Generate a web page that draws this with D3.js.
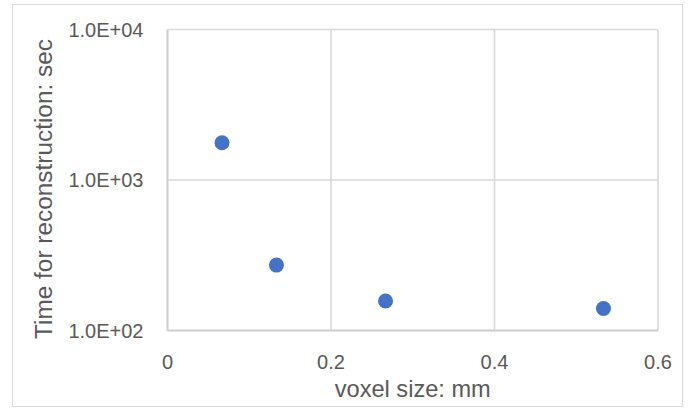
<!DOCTYPE html>
<html>
<head>
<meta charset="utf-8">
<script src="https://cdn.jsdelivr.net/npm/d3@7"></script>
<style>
  html, body { margin: 0; padding: 0; background: #ffffff; }
  svg { display: block; }
</style>
</head>
<body>
<div id="chart"></div>
<script>
// ---- data ----
const voxelSize = [0.0667, 0.1333, 0.2667, 0.5333];          // mm
const reconTime = [1770, 272, 157, 140];                      // sec
const xTicks = [0, 0.2, 0.4, 0.6];
const xTickLabels = ["0", "0.2", "0.4", "0.6"];
const yTicks = [100, 1000, 10000];
const yTickLabels = ["1.0E+02", "1.0E+03", "1.0E+04"];
const xTitle = "voxel size: mm";
const yTitle = "Time for reconstruction: sec";

// ---- layout ----
const W = 691, H = 409;
const plot = { left: 167.5, right: 658, top: 29.5, bottom: 330.5 };
const font = "'Liberation Sans', Arial, sans-serif";
const textColor = "#595959";
const gridColor = "#d9d9d9";
const pointColor = "#4472C4";

const svg = d3.select("#chart").append("svg")
  .attr("width", W).attr("height", H);

// outer chart border
svg.append("rect")
  .attr("x", 12.5).attr("y", 4.5)
  .attr("width", 670).attr("height", 402)
  .attr("fill", "#ffffff")
  .attr("stroke", gridColor).attr("stroke-width", 1);

const x = d3.scaleLinear().domain([0, 0.6]).range([plot.left, plot.right]);
const y = d3.scaleLog().domain([100, 10000]).range([plot.bottom, plot.top]);

// gridlines
const grid = svg.append("g");
grid.selectAll("line.v").data(xTicks).join("line")
  .attr("class", "v")
  .attr("x1", d => x(d)).attr("x2", d => x(d))
  .attr("y1", plot.top).attr("y2", plot.bottom)
  .attr("stroke", gridColor).attr("stroke-width", 1.6);
grid.selectAll("line.h").data(yTicks).join("line")
  .attr("class", "h")
  .attr("x1", plot.left).attr("x2", plot.right)
  .attr("y1", d => y(d)).attr("y2", d => y(d))
  .attr("stroke", gridColor).attr("stroke-width", 1.6);

// axes lines (bottom and left slightly stronger)
svg.append("line")
  .attr("x1", plot.left).attr("x2", plot.right)
  .attr("y1", plot.bottom).attr("y2", plot.bottom)
  .attr("stroke", "#d0d0d0").attr("stroke-width", 1.8);
svg.append("line")
  .attr("x1", plot.left).attr("x2", plot.left)
  .attr("y1", plot.top).attr("y2", plot.bottom)
  .attr("stroke", "#d0d0d0").attr("stroke-width", 1.8);

// x tick labels
svg.append("g").selectAll("text").data(xTicks).join("text")
  .attr("x", d => x(d)).attr("y", 369)
  .attr("text-anchor", "middle")
  .attr("font-family", font).attr("font-size", 20)
  .attr("fill", textColor)
  .text((d, i) => xTickLabels[i]);

// y tick labels
svg.append("g").selectAll("text").data(yTicks).join("text")
  .attr("x", 143.5).attr("y", d => y(d))
  .attr("dy", "0.36em")
  .attr("text-anchor", "end")
  .attr("font-family", font).attr("font-size", 20)
  .attr("fill", textColor)
  .text((d, i) => yTickLabels[i]);

// axis titles
svg.append("text")
  .attr("x", (plot.left + plot.right) / 2).attr("y", 396.5)
  .attr("text-anchor", "middle")
  .attr("font-family", font).attr("font-size", 23.6)
  .attr("fill", textColor)
  .text(xTitle);

svg.append("text")
  .attr("transform", `translate(51.5, ${189}) rotate(-90)`)
  .attr("text-anchor", "middle")
  .attr("font-family", font).attr("font-size", 24.4)
  .attr("fill", textColor)
  .text(yTitle);

// points
svg.append("g").selectAll("circle").data(voxelSize).join("circle")
  .attr("cx", d => x(d))
  .attr("cy", (d, i) => y(reconTime[i]))
  .attr("r", 7.5)
  .attr("fill", pointColor);
</script>
</body>
</html>
